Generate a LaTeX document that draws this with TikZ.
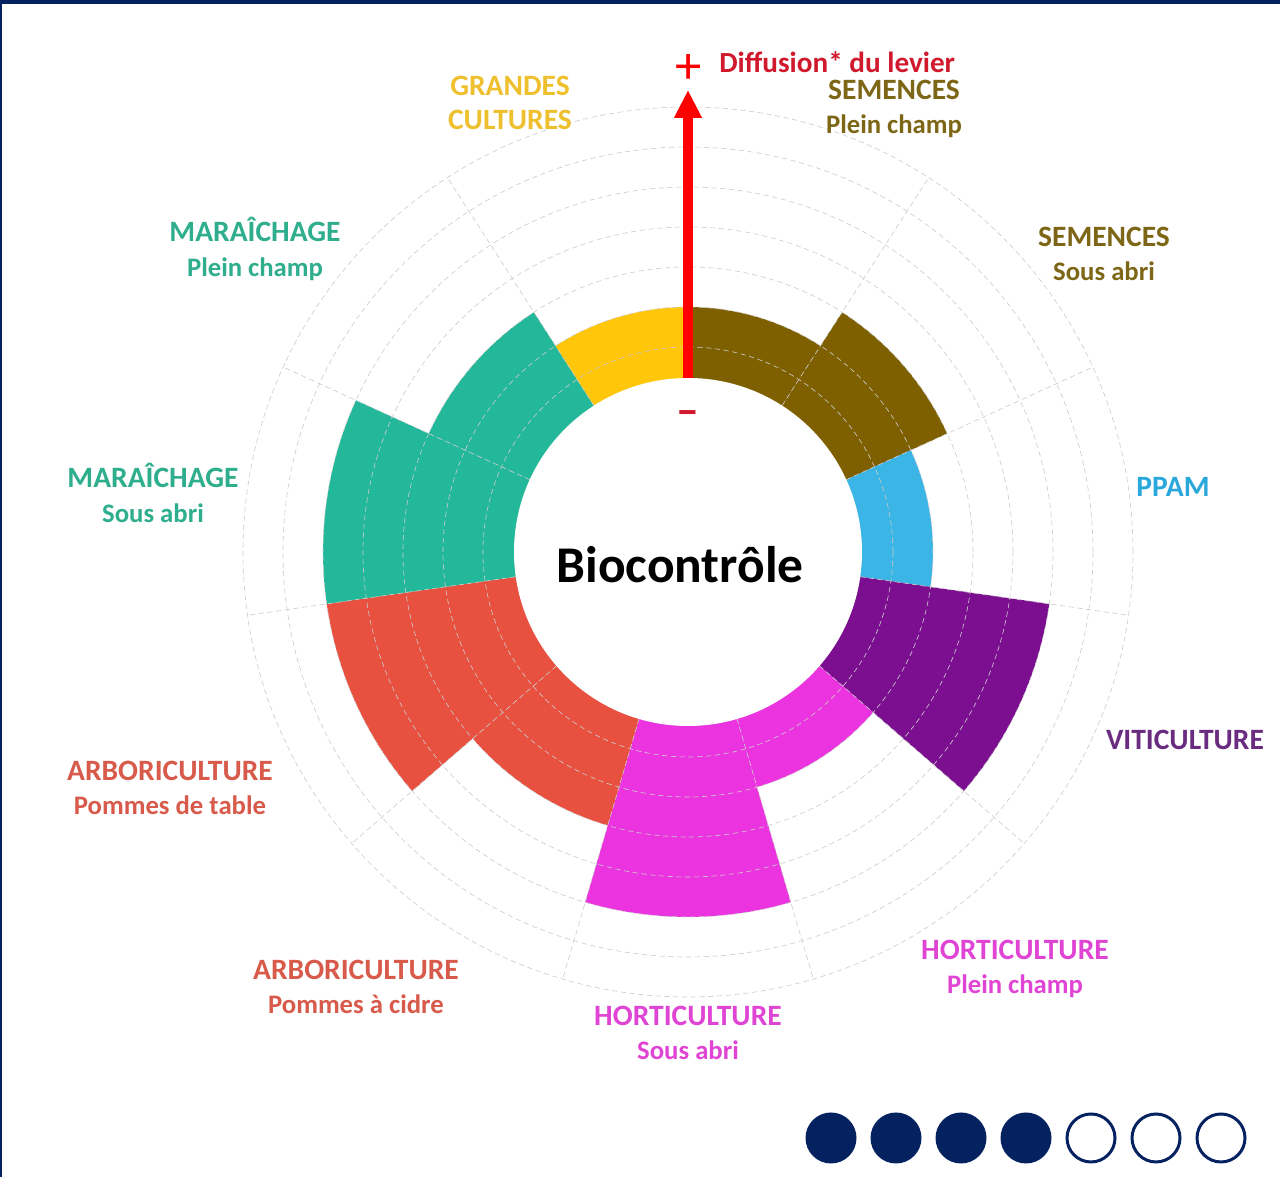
\documentclass[tikz,border=0pt]{standalone}
\usepackage{fontspec}
\setmainfont{Carlito}
\usetikzlibrary{arrows.meta}

\definecolor{navy}{HTML}{042160}
\definecolor{gcbar}{HTML}{FFC60A}
\definecolor{sembar}{HTML}{7F6000}
\definecolor{ppambar}{HTML}{3AB5E6}
\definecolor{vitibar}{HTML}{7C0E90}
\definecolor{hortibar}{HTML}{EB34DF}
\definecolor{arbobar}{HTML}{E8503F}
\definecolor{marabar}{HTML}{22B899}
\definecolor{levier}{HTML}{FF0000}
\definecolor{gctext}{HTML}{EFC02E}
\definecolor{semtext}{HTML}{7D6616}
\definecolor{ppamtext}{HTML}{2AA8DC}
\definecolor{vititext}{HTML}{6A2C80}
\definecolor{hortitext}{HTML}{E044D4}
\definecolor{arbotext}{HTML}{D85A4B}
\definecolor{maratext}{HTML}{2EAE8C}
\definecolor{levtext}{HTML}{D0192C}

% second line of a sector label
\newcommand{\sectsub}[1]{{\fontsize{15.2}{19.5}\selectfont #1}}

\begin{document}
\begin{tikzpicture}[x=0.2mm,y=0.2mm]
        \tikzstyle{grid line}=[gray!40,densely dashed,line width=0.35pt]
        \tikzstyle{sector label}=[font=\fontsize{16.8}{19.5}\selectfont\bfseries,align=center,inner sep=0pt]
        \tikzstyle{full dot}=[circle,fill=navy,minimum size=10.2mm,inner sep=0pt]
        \tikzstyle{empty dot}=[circle,draw=navy,line width=0.6mm,minimum size=9.6mm,inner sep=0pt]

        % Frame
        \useasboundingbox (0,0) rectangle (1280,1177);
        \fill[white] (0,0) rectangle (1280,1177);
        \fill[navy] (0,1173) rectangle (1280,1177);
        \fill[navy] (0,0) rectangle (2.5,1177);

        \coordinate (O) at (688,625);

        % Bars (one per sector, clockwise from the top)
        \begin{scope}[shift={(O)}]
            \fill[sembar] (0,0) -- (90:245) arc[start angle=90,end angle=57.27,radius=245] -- cycle;
            \fill[sembar] (0,0) -- (57.27:285) arc[start angle=57.27,end angle=24.55,radius=285] -- cycle;
            \fill[ppambar] (0,0) -- (24.55:245) arc[start angle=24.55,end angle=-8.18,radius=245] -- cycle;
            \fill[vitibar] (0,0) -- (-8.18:365) arc[start angle=-8.18,end angle=-40.91,radius=365] -- cycle;
            \fill[hortibar] (0,0) -- (-40.91:245) arc[start angle=-40.91,end angle=-73.64,radius=245] -- cycle;
            \fill[hortibar] (0,0) -- (-73.64:365) arc[start angle=-73.64,end angle=-106.36,radius=365] -- cycle;
            \fill[arbobar] (0,0) -- (-106.36:285) arc[start angle=-106.36,end angle=-139.09,radius=285] -- cycle;
            \fill[arbobar] (0,0) -- (-139.09:365) arc[start angle=-139.09,end angle=-171.82,radius=365] -- cycle;
            \fill[marabar] (0,0) -- (-171.82:365) arc[start angle=-171.82,end angle=-204.55,radius=365] -- cycle;
            \fill[marabar] (0,0) -- (-204.55:285) arc[start angle=-204.55,end angle=-237.27,radius=285] -- cycle;
            \fill[gcbar] (0,0) -- (-237.27:245) arc[start angle=-237.27,end angle=-270,radius=245] -- cycle;

            % Grid
            \foreach \r in {205,245,...,445}
                \draw[grid line] (0,0) circle[radius=\r];
            \foreach \a in {90,57.27,24.55,-8.18,-40.91,-73.64,-106.36,-139.09,-171.82,-204.55,-237.27}
                \draw[grid line] (\a:165) -- (\a:445);
        \end{scope}

        % Hub
        \node[circle,fill=white,minimum size=69.6mm,inner sep=0pt] (hub) at (O) {};
        \node[font=\fontsize{29.3}{32}\selectfont\bfseries] (title) at (680,612) {Biocontrôle};

        % Scale of the lever
        \coordinate (tip) at (688,1087);
        \draw[levier,line width=2mm,-{Triangle[width=5.2mm,length=5.6mm]}] (hub.north) -- (tip);
        \node[levier,font=\fontsize{30}{30}\selectfont,inner sep=0pt] (plus) at (689,1108) {+};
        \node[levtext,font=\fontsize{16.6}{19}\selectfont\bfseries,anchor=west,inner sep=0pt] (diffusion) at (719,1115) {Diffusion* du levier};
        \node[levtext,font=\fontsize{26}{26}\selectfont\bfseries,inner sep=0pt,anchor=base] (minus) at (688,751) {–};

        % Sector labels
        \node[sector label,text=semtext] (sempc) at (894,1068) {SEMENCES\\\sectsub{Plein champ}};
        \node[sector label,text=semtext] (semsa) at (1104,923) {SEMENCES\\\sectsub{Sous abri}};
        \node[sector label,text=ppamtext] (ppam) at (1173,690) {PPAM};
        \node[sector label,text=vititext] (viti) at (1185,437) {VITICULTURE};
        \node[sector label,text=hortitext] (hortipc) at (1015,208) {HORTICULTURE\\\sectsub{Plein champ}};
        \node[sector label,text=hortitext] (hortisa) at (688,144) {HORTICULTURE\\\sectsub{Sous abri}};
        \node[sector label,text=arbotext] (arbocidre) at (356,190) {ARBORICULTURE\\\sectsub{Pommes à cidre}};
        \node[sector label,text=arbotext] (arbotable) at (170,389) {ARBORICULTURE\\\sectsub{Pommes de table}};
        \node[sector label,text=maratext] (marasa) at (153,684) {MARAÎCHAGE\\\sectsub{Sous abri}};
        \node[sector label,text=maratext] (marapc) at (255,928) {MARAÎCHAGE\\\sectsub{Plein champ}};
        \node[sector label,text=gctext] (gc) at (510,1074) {GRANDES\\CULTURES};

        % Level dots
        \node[full dot] (d1) at (831,39) {};
        \node[full dot] (d2) at (896,39) {};
        \node[full dot] (d3) at (961,39) {};
        \node[full dot] (d4) at (1026,39) {};
        \node[empty dot] (d5) at (1091,39) {};
        \node[empty dot] (d6) at (1156,39) {};
        \node[empty dot] (d7) at (1221,39) {};
\end{tikzpicture}
\end{document}
